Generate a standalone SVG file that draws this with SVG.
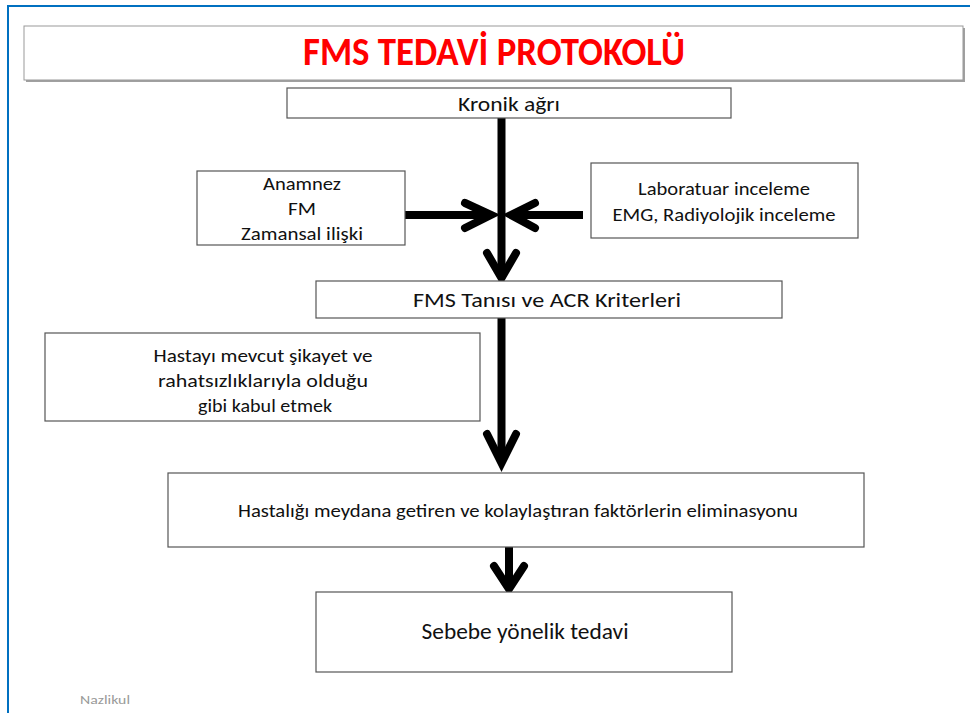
<svg xmlns="http://www.w3.org/2000/svg" width="970" height="713" viewBox="0 0 970 713">
<style>
.box{fill:#fff;stroke:#555;stroke-width:1.2}
.t{font-family:Carlito,"Liberation Sans",sans-serif;font-size:19px;fill:#111;text-anchor:middle}
.ln{stroke:#000;stroke-width:8;fill:none}
.hd{stroke:#000;stroke-width:8;fill:none;stroke-linecap:round;stroke-linejoin:miter}
</style>
<rect width="970" height="713" fill="#fff"/>
<path d="M8,713 V6 H970" fill="none" stroke="#0070C0" stroke-width="2"/>
<g id="title">
<rect x="26" y="28" width="939" height="54" fill="#a0a0a0"/>
<rect x="24" y="26" width="939" height="54" fill="#fff" stroke="#999" stroke-width="1"/>
<text x="494" y="65" font-family="Carlito,'Liberation Sans',sans-serif" font-size="40" font-weight="bold" fill="#FF0000" text-anchor="middle" textLength="382" lengthAdjust="spacingAndGlyphs">FMS TEDAVİ PROTOKOLÜ</text>
</g>
<g id="connectors">
<line class="ln" x1="501.5" y1="118" x2="501.5" y2="276"/>
<polyline class="hd" points="487,253 501.5,278 516,253"/>
<line class="ln" x1="405" y1="215" x2="488" y2="215"/>
<polyline class="hd" points="465,203 491,215 465,228"/>
<line class="ln" x1="583" y1="215" x2="514" y2="215"/>
<polyline class="hd" points="535,203 511,215 535,228"/>
<line class="ln" x1="501.5" y1="318" x2="501.5" y2="461"/>
<polyline class="hd" points="487,434 501.5,463 516,434"/>
<line class="ln" x1="509" y1="547" x2="509" y2="587"/>
<polyline class="hd" points="494,566 509,589 524,566"/>
</g>
<g id="kronik">
<rect class="box" x="287" y="88" width="444" height="30"/>
<text class="t" x="509" y="111" style="font-size:20px" textLength="102" lengthAdjust="spacingAndGlyphs">Kronik ağrı</text>
</g>
<g id="anamnez">
<rect class="box" x="197" y="171" width="208" height="74"/>
<text class="t" x="302" y="190" textLength="78" lengthAdjust="spacingAndGlyphs">Anamnez</text>
<text class="t" x="302" y="215" textLength="28" lengthAdjust="spacingAndGlyphs">FM</text>
<text class="t" x="302" y="240" textLength="122" lengthAdjust="spacingAndGlyphs">Zamansal ilişki</text>
</g>
<g id="lab">
<rect class="box" x="591" y="163" width="267" height="75"/>
<text class="t" x="724" y="195" textLength="172" lengthAdjust="spacingAndGlyphs">Laboratuar inceleme</text>
<text class="t" x="724" y="221" textLength="223" lengthAdjust="spacingAndGlyphs">EMG, Radiyolojik inceleme</text>
</g>
<g id="tani">
<rect class="box" x="316" y="281" width="466" height="37"/>
<text class="t" x="547" y="307" style="font-size:20px" textLength="268" lengthAdjust="spacingAndGlyphs">FMS Tanısı ve ACR Kriterleri</text>
</g>
<g id="hasta">
<rect class="box" x="45" y="333" width="435" height="88"/>
<text class="t" x="263" y="362" textLength="219" lengthAdjust="spacingAndGlyphs">Hastayı mevcut şikayet ve</text>
<text class="t" x="263" y="387" textLength="210" lengthAdjust="spacingAndGlyphs">rahatsızlıklarıyla olduğu</text>
<text class="t" x="265" y="412" textLength="134" lengthAdjust="spacingAndGlyphs">gibi kabul etmek</text>
</g>
<g id="eliminasyon">
<rect class="box" x="168" y="473" width="696" height="74"/>
<text class="t" x="518" y="517" style="font-size:18px" textLength="560" lengthAdjust="spacingAndGlyphs">Hastalığı meydana getiren ve kolaylaştıran faktörlerin eliminasyonu</text>
</g>
<g id="sebebe">
<rect class="box" x="316" y="592" width="416" height="80"/>
<text class="t" x="525" y="639" style="font-size:22px" textLength="207" lengthAdjust="spacingAndGlyphs">Sebebe yönelik tedavi</text>
</g>
<text x="80" y="704" font-family="Carlito,'Liberation Sans',sans-serif" font-size="13" fill="#999" textLength="50" lengthAdjust="spacingAndGlyphs">Nazlikul</text>
</svg>
